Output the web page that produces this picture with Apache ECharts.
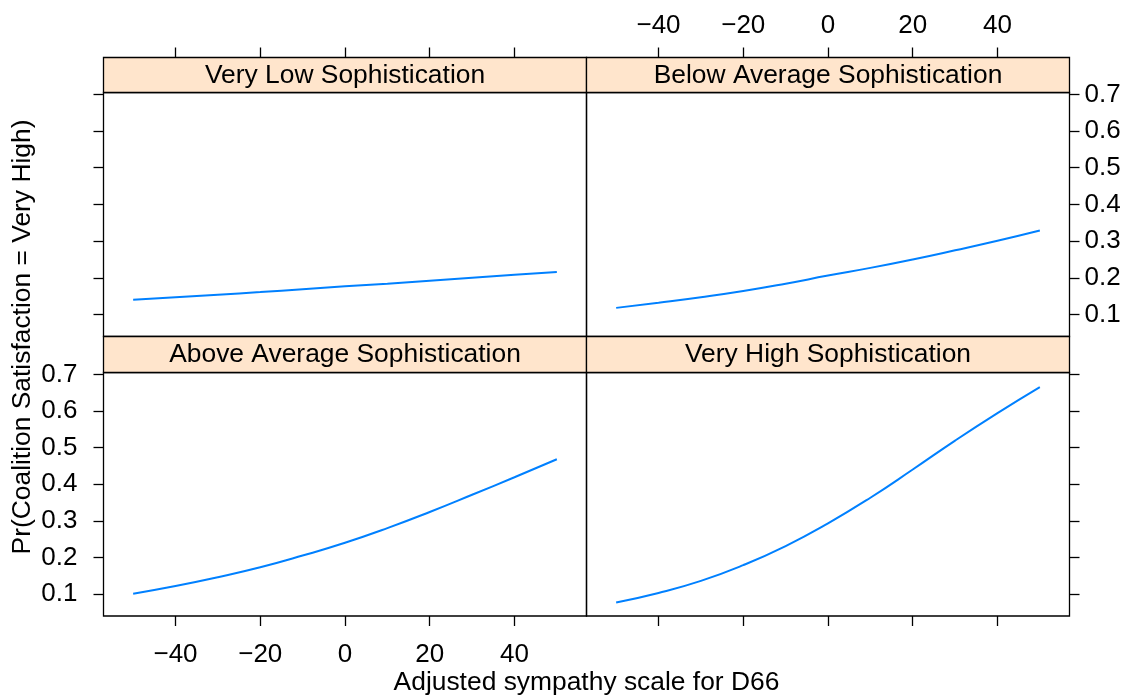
<!DOCTYPE html>
<html>
<head>
<meta charset="utf-8">
<script src="https://cdn.jsdelivr.net/npm/echarts@6/dist/echarts.min.js"></script>
<style>
html,body{margin:0;padding:0;background:#fff;}
#chart{width:1132px;height:700px;}
</style>
</head>
<body>
<div id="chart"></div>
<script>
// ---- data ----
const xValues = [-50, -40, -30, -20, -10, 0, 10, 20, 30, 40, 50];
const veryLow = [0.140, 0.147, 0.154, 0.161, 0.169, 0.177, 0.184, 0.192, 0.200, 0.208, 0.216];
const belowAverage = [0.118, 0.132, 0.147, 0.164, 0.184, 0.206, 0.227, 0.250, 0.275, 0.301, 0.329];
const aboveAverage = [0.101, 0.122, 0.146, 0.173, 0.205, 0.240, 0.280, 0.324, 0.371, 0.419, 0.468];
const veryHigh = [0.077, 0.103, 0.136, 0.179, 0.231, 0.293, 0.363, 0.440, 0.519, 0.594, 0.665];
const panelTitles = ['Very Low Sophistication', 'Below Average Sophistication', 'Above Average Sophistication', 'Very High Sophistication'];
const xTicks = [-40, -20, 0, 20, 40];
const xTickLabels = ['\u221240', '\u221220', '0', '20', '40'];
const yTicks = [0.1, 0.2, 0.3, 0.4, 0.5, 0.6, 0.7];
const yTickLabels = ['0.1', '0.2', '0.3', '0.4', '0.5', '0.6', '0.7'];
const xTitle = 'Adjusted sympathy scale for D66';
const yTitle = 'Pr(Coalition Satisfaction = Very High)';

// ---- layout ----
const FONT = '"Liberation Sans", Arial, Helvetica, sans-serif';
const FS = 26;
const FS2 = 26.4;
const L0 = 103.5, L1 = 586.5, W = 483;
const T0 = 92.5, H0 = 244, T1 = 372.5, H1 = 243.5;
const STRIP0 = 57.5, STRIP1 = 336.5;
const XMIN = -57, XMAX = 57, YMIN = 0.040, YMAX = 0.705;
const BW = 1.3;

const chart = echarts.init(document.getElementById('chart'), null, {renderer: 'canvas'});

function fmtX(v) { const i = xTicks.indexOf(v); return i >= 0 ? xTickLabels[i] : ''; }
function fmtY(v) {
  let best = -1, d = 1e9;
  yTicks.forEach((t, i) => { if (Math.abs(t - v) < d) { d = Math.abs(t - v); best = i; } });
  return d < 1e-6 ? yTickLabels[best] : '';
}

const tickStyle = {color: '#000', width: BW};
function xAxis(grid, pos, showLabel, offset, margin) {
  return {
    gridIndex: grid, type: 'value', min: XMIN, max: XMAX, position: pos, offset: offset,
    axisLine: {show: false, onZero: false},
    axisTick: {show: true, inside: false, length: 10, lineStyle: tickStyle, customValues: xTicks},
    axisLabel: {show: showLabel, customValues: xTicks, formatter: fmtX, margin: margin,
      color: '#000', fontSize: FS, fontFamily: FONT},
    splitLine: {show: false}
  };
}
function yAxis(grid, pos, showLabel, margin) {
  return {
    gridIndex: grid, type: 'value', min: YMIN, max: YMAX, position: pos,
    axisLine: {show: false, onZero: false},
    axisTick: {show: true, inside: false, length: 10, lineStyle: tickStyle, customValues: yTicks},
    axisLabel: {show: showLabel, customValues: yTicks, formatter: fmtY, margin: margin,
      color: '#000', fontSize: FS, fontFamily: FONT},
    splitLine: {show: false}
  };
}

const grids = [
  {left: L0, top: T0, width: W, height: H0},
  {left: L1, top: T0, width: W, height: H0},
  {left: L0, top: T1, width: W, height: H1},
  {left: L1, top: T1, width: W, height: H1}
].map(g => Object.assign(g, {show: true, borderColor: '#000', borderWidth: BW, backgroundColor: 'transparent', containLabel: false}));

const seriesData = [veryLow, belowAverage, aboveAverage, veryHigh];
const series = seriesData.map((arr, i) => ({
  type: 'line', xAxisIndex: i, yAxisIndex: i,
  data: xValues.map((x, j) => [x, arr[j]]),
  showSymbol: false, smooth: true,
  lineStyle: {color: '#0080FF', width: 2},
  silent: true
}));

const stripPos = [[L0, STRIP0, T0 - STRIP0], [L1, STRIP0, T0 - STRIP0], [L0, STRIP1, T1 - STRIP1], [L1, STRIP1, T1 - STRIP1]];
const graphics = [];
stripPos.forEach((p, i) => {
  graphics.push({type: 'rect', shape: {x: p[0], y: p[1], width: W, height: p[2]},
    style: {fill: '#FFE5CC', stroke: '#000', lineWidth: BW}, z: 10, silent: true});
  graphics.push({type: 'text', x: p[0] + W / 2, y: p[1] + p[2] / 2 + 0.5,
    style: {text: panelTitles[i], fill: '#000', fontSize: FS2, fontFamily: FONT, align: 'center', verticalAlign: 'middle'}, z: 11, silent: true});
});
graphics.push({type: 'text', x: L1, y: 683,
  style: {text: xTitle, fill: '#000', fontSize: FS2, fontFamily: FONT, align: 'center', verticalAlign: 'middle'}, silent: true});
graphics.push({type: 'text', x: 23, y: 337, rotation: Math.PI / 2,
  style: {text: yTitle, fill: '#000', fontSize: FS2, fontFamily: FONT, align: 'center', verticalAlign: 'middle'}, silent: true});

chart.setOption({
  animation: false,
  backgroundColor: '#fff',
  grid: grids,
  xAxis: [
    xAxis(0, 'top', false, T0 - STRIP0, 19),
    xAxis(1, 'top', true, T0 - STRIP0, 19),
    xAxis(2, 'bottom', true, 0, 26),
    xAxis(3, 'bottom', false, 0, 26)
  ],
  yAxis: [
    yAxis(0, 'left', false, 26),
    yAxis(1, 'right', true, 15),
    yAxis(2, 'left', true, 26),
    yAxis(3, 'right', false, 15)
  ],
  series: series,
  graphic: graphics
});
</script>
</body>
</html>
